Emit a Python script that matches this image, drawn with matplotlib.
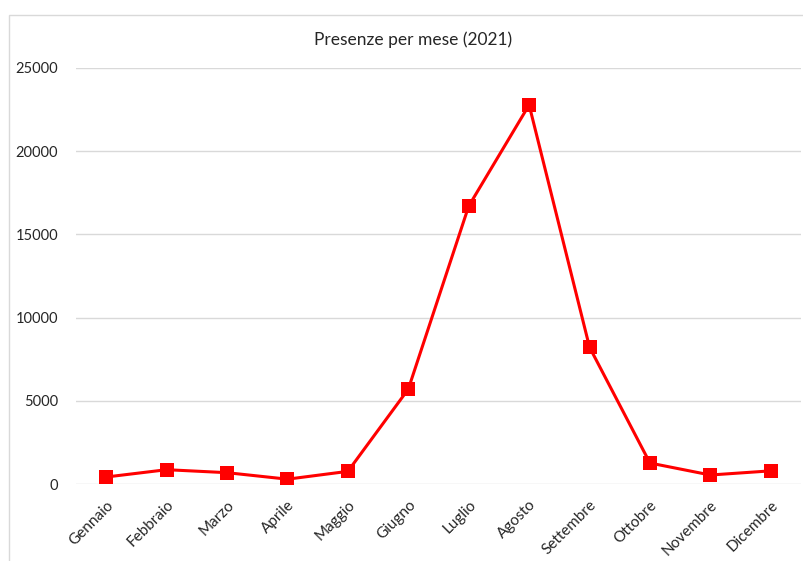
import matplotlib
matplotlib.use('Agg')
import matplotlib.pyplot as plt
from matplotlib.patches import Rectangle

# presenze mensili 2021
mesi = ['Gennaio', 'Febbraio', 'Marzo', 'Aprile', 'Maggio', 'Giugno',
        'Luglio', 'Agosto', 'Settembre', 'Ottobre', 'Novembre', 'Dicembre']
presenze = [420, 860, 680, 290, 760, 5700, 16700, 22780, 8220, 1260, 540, 790]
y_ticks = [0, 5000, 10000, 15000, 20000, 25000]

plt.rcParams['font.family'] = ['Lato', 'DejaVu Sans']

fig = plt.figure(figsize=(8.04, 5.61), dpi=100)
ax = fig.add_axes([76 / 804, 77 / 561, 725 / 804, 416 / 561])

x = range(len(mesi))
ax.plot(x, presenze, color='#FF0000', linewidth=2.2, marker='s', ms=10,
        markeredgewidth=0, zorder=3)

ax.set_xlim(-0.5, len(mesi) - 0.5)
ax.set_ylim(0, 25000)
ax.set_yticks(y_ticks)
ax.set_yticklabels([str(v) for v in y_ticks], fontsize=10.5, color='#262626')
ax.set_xticks(list(x))
ax.set_xticklabels(mesi, rotation=45, ha='right', va='top',
                   rotation_mode='anchor', fontsize=11, color='#262626')
ax.tick_params(axis='both', length=0)
ax.tick_params(axis='y', pad=13)
ax.tick_params(axis='x', pad=10)

# griglia orizzontale, niente bordi
ax.grid(axis='y', color='#D9D9D9', linewidth=1.0)
ax.set_axisbelow(True)
for s in ax.spines.values():
    s.set_visible(False)

fig.text(413 / 804, 1 - 40 / 561, 'Presenze per mese (2021)', ha='center',
         va='center', fontsize=12.5, color='#262626')

# cornice del grafico
fig.patches.append(Rectangle((9 / 804, -0.1), 1.2, 1.1 - 15 / 561,
                             transform=fig.transFigure, fill=False,
                             edgecolor='#D9D9D9', linewidth=1.0))

fig.savefig('out.png', dpi=100)
